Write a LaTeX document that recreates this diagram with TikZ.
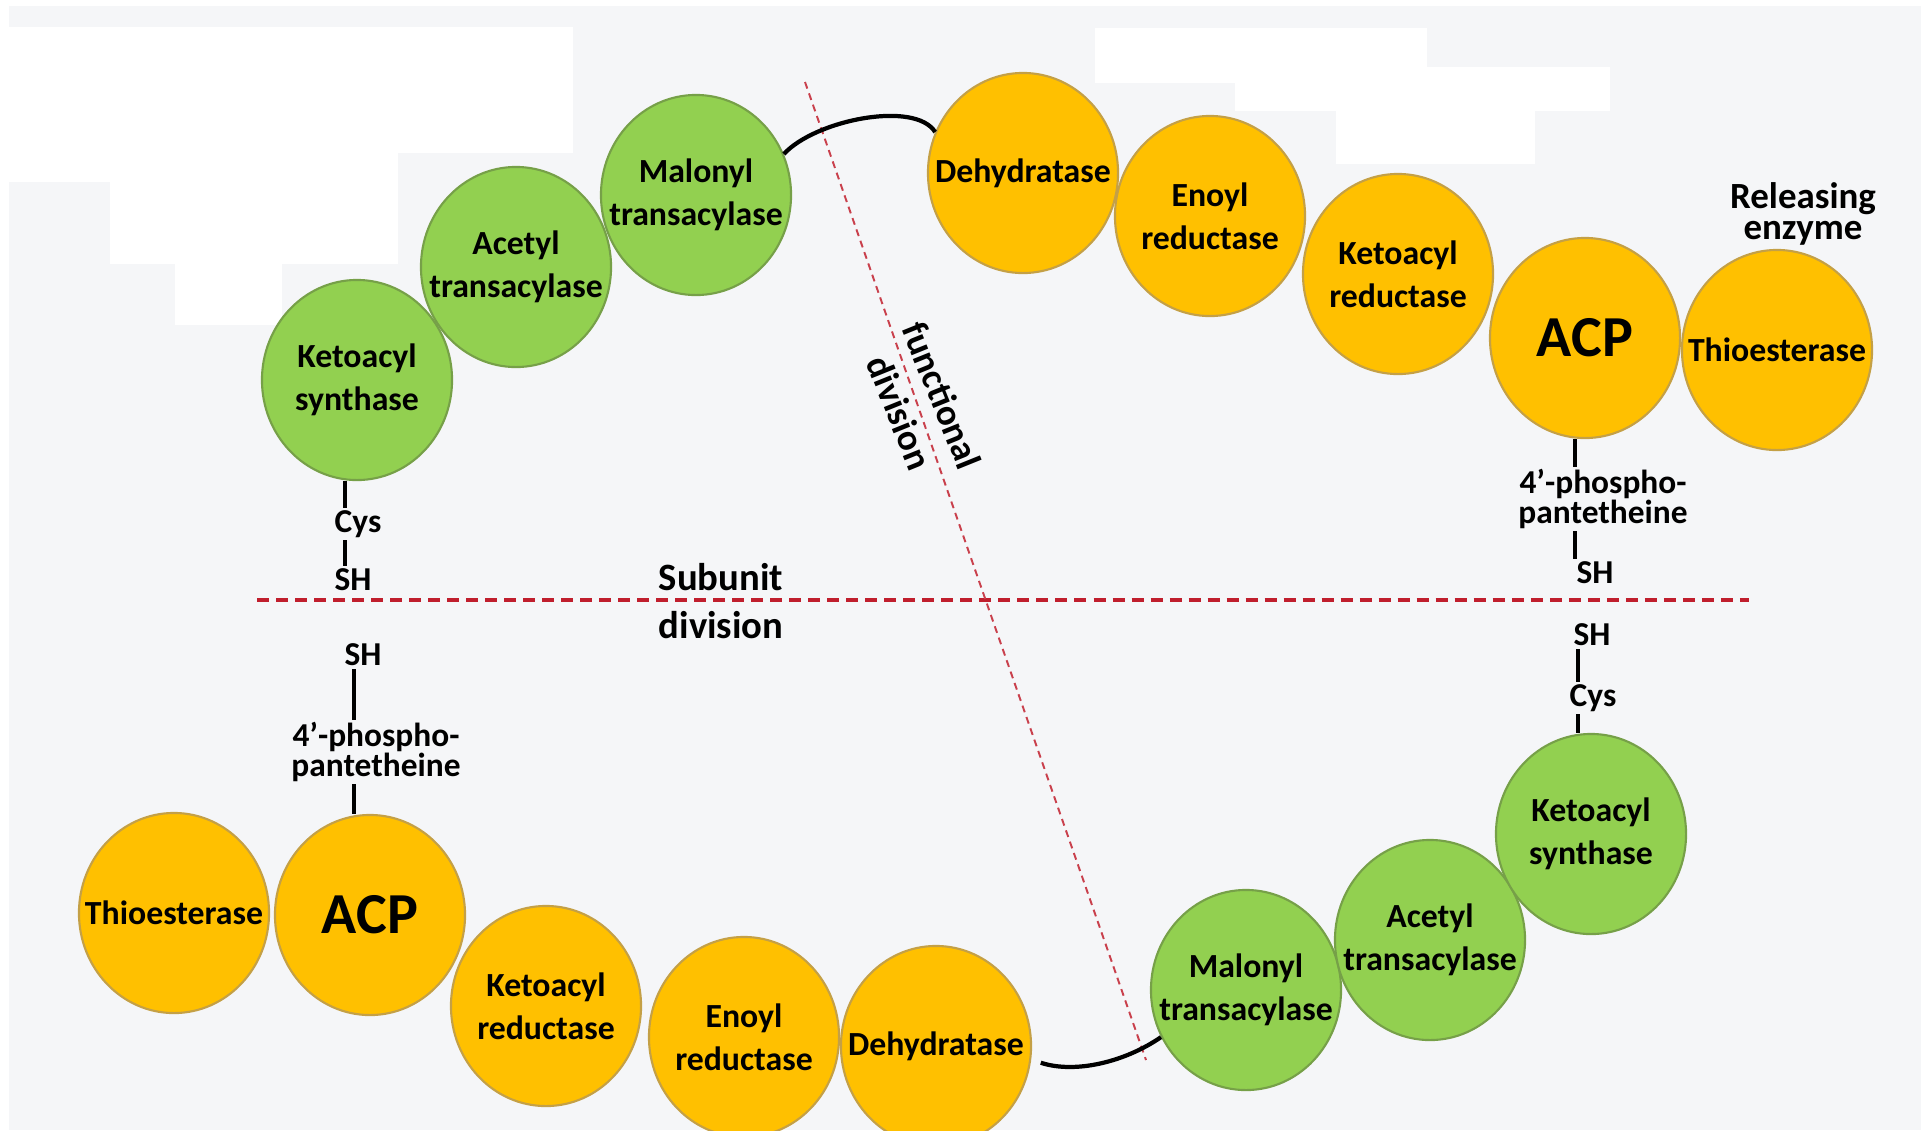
\documentclass[tikz,border=0pt]{standalone}
\usepackage{fontspec}
\setmainfont{Carlito}
\usetikzlibrary{shapes.geometric}

\definecolor{paper}{RGB}{245,246,248}
\definecolor{leafgreen}{RGB}{146,208,80}
\definecolor{leafrim}{RGB}{190,236,126}
\definecolor{leafedge}{RGB}{118,160,72}
\definecolor{amber}{RGB}{255,192,0}
\definecolor{amberrim}{RGB}{255,228,80}
\definecolor{amberedge}{RGB}{196,160,70}
\definecolor{divred}{RGB}{192,30,45}

\pgfdeclareradialshading{leafball}{\pgfpoint{0bp}{0bp}}{color(0bp)=(leafgreen); color(38bp)=(leafgreen); color(45bp)=(leafrim); color(48bp)=(leafgreen); color(50bp)=(leafgreen)}
\pgfdeclareradialshading{amberball}{\pgfpoint{0bp}{0bp}}{color(0bp)=(amber); color(38bp)=(amber); color(45bp)=(amberrim); color(48bp)=(amber); color(50bp)=(amber)}

\begin{document}
\begin{tikzpicture}[x=0.01cm, y=-0.01cm,
  enz/.style={ellipse, minimum width=1.9cm, minimum height=2cm, inner sep=-0.4cm, line width=0.6pt, align=center, font=\bfseries\fontsize{9.6}{12.2}\selectfont},
  greenenz/.style={enz, shade, shading=leafball, draw=leafedge},
  goldenz/.style={enz, shade, shading=amberball, draw=amberedge},
  acp/.style={goldenz, font=\bfseries\fontsize{16.5}{18}\selectfont},
  tag/.style={inner sep=0.5pt, align=center, font=\bfseries\fontsize{9.5}{8.5}\selectfont},
  stem/.style={line width=0.9pt},
  link/.style={line width=1.2pt},
  subdiv/.style={divred, line width=0.9pt, dash pattern=on 0.12cm off 0.07cm},
  fundiv/.style={divred!85, line width=0.55pt, dash pattern=on 0.07cm off 0.05cm}]
 \useasboundingbox (0,0) rectangle (1921,1130);
 \fill[paper] (0,0) rectangle (1921,1130); %背景
 \fill[white] (0,0) rectangle (1921,6);
 \fill[white] (0,0) rectangle (9,1130);
 \fill[white] (9,27) rectangle (573,153);
 \fill[white] (9,153) rectangle (398,182);
 \fill[white] (110,182) rectangle (398,264);
 \fill[white] (175,264) rectangle (282,325);
 \fill[white] (1095,28) rectangle (1427,83);
 \fill[white] (1235,67) rectangle (1610,111);
 \fill[white] (1336,111) rectangle (1535,164);

 \coordinate (SubL) at (257,600); %サブユニット境界 左端
 \coordinate (SubR) at (1749,600); %サブユニット境界 右端
 \coordinate (FunT) at (805,82); %機能境界 上端
 \coordinate (FunB) at (1146,1060); %機能境界 下端
 \draw[subdiv] (SubL)--(SubR);
 \draw[fundiv] (FunT)--(FunB);
 \node[font=\bfseries\fontsize{11}{13.4}\selectfont, align=center] (subunit) at (721,601) {Subunit\\division};
 \node[font=\bfseries\fontsize{10.5}{13}\selectfont, align=center, rotate=-68] (functional) at (921,404) {functional\\division};

 % 上のサブユニット
 \node[greenenz] (KSa) at (357,380) {Ketoacyl\\synthase};
 \node[greenenz] (ATa) at (516,267) {Acetyl\\transacylase};
 \node[greenenz] (MTa) at (696,195) {Malonyl\\transacylase};
 \node[goldenz] (DHa) at (1023,173) {Dehydratase};
 \node[goldenz] (ERa) at (1210,216) {Enoyl\\reductase};
 \node[goldenz] (KRa) at (1398,274) {Ketoacyl\\reductase};
 \node[acp] (ACPa) at (1585,338) {ACP};
 \node[goldenz] (TEa) at (1777,350) {Thioesterase};
 \node[font=\bfseries\fontsize{10.5}{9}\selectfont, align=center] (release) at (1803,214) {Releasing\\enzyme};
 \draw[link] (MTa.25) .. controls (815,120) and (915,100) .. (DHa.155);

 % 下のサブユニット
 \node[goldenz] (TEb) at (174,913) {Thioesterase};
 \node[acp] (ACPb) at (370,915) {ACP};
 \node[goldenz] (KRb) at (546,1006) {Ketoacyl\\reductase};
 \node[goldenz] (ERb) at (744,1037) {Enoyl\\reductase};
 \node[goldenz] (DHb) at (936,1046) {Dehydratase};
 \node[greenenz] (MTb) at (1246,990) {Malonyl\\transacylase};
 \node[greenenz] (ATb) at (1430,940) {Acetyl\\transacylase};
 \node[greenenz] (KSb) at (1591,834) {Ketoacyl\\synthase};
 \draw[link] ([xshift=0.1cm]DHb.-10) .. controls (1075,1074) and (1125,1062) .. (MTb.209);

 % SH基
 \coordinate (stemA) at (345,0);
 \coordinate (stemB) at (1575,0);
 \coordinate (stemC) at (354,0);
 \coordinate (stemD) at (1578,0);
 \node[tag] (Cysa) at (358,524) {Cys};
 \node[tag] (SHa) at (353,580) {SH};
 \draw[stem] (KSa.south -| stemA)--(Cysa.north -| stemA);
 \draw[stem] (Cysa.south -| stemA)--(SHa.north -| stemA);
 \node[tag] (phoA) at (1603,499) {4'-phospho-\\pantetheine};
 \node[tag] (SHb) at (1595,573) {SH};
 \draw[stem] (ACPa.south -| stemB)--(phoA.north -| stemB);
 \draw[stem] (phoA.south -| stemB)--(SHb.north -| stemB);
 \node[tag] (phoB) at (376,752) {4'-phospho-\\pantetheine};
 \node[tag] (SHc) at (363,655) {SH};
 \draw[stem] (ACPb.north -| stemC)--(phoB.south -| stemC);
 \draw[stem] (phoB.north -| stemC)--(SHc.south -| stemC);
 \node[tag] (Cysb) at (1593,698) {Cys};
 \node[tag] (SHd) at (1592,635) {SH};
 \draw[stem] (KSb.north -| stemD)--(Cysb.south -| stemD);
 \draw[stem] (Cysb.north -| stemD)--(SHd.south -| stemD);
\end{tikzpicture}
\end{document}
